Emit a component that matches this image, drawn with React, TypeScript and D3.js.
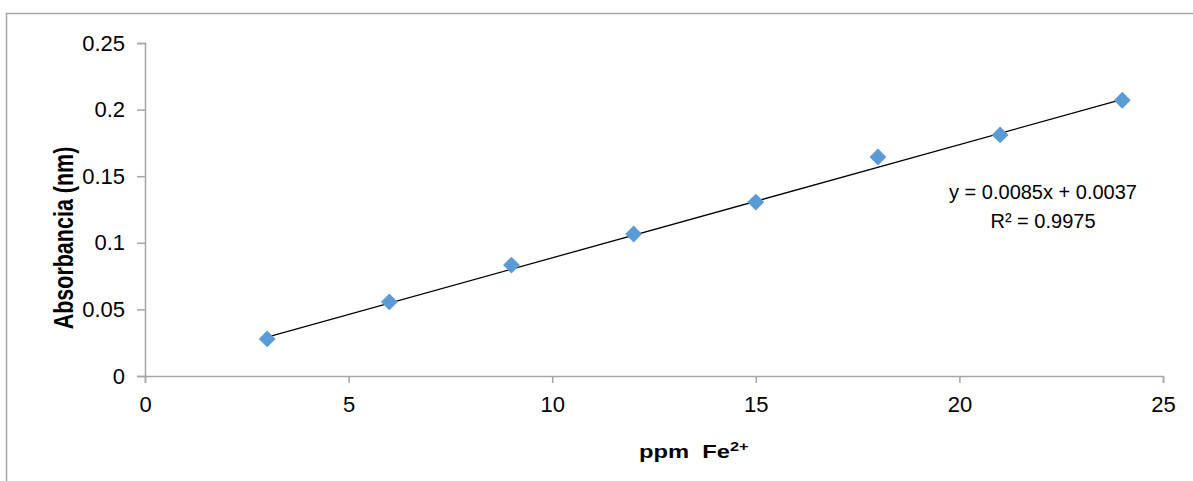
import React, { useEffect, useRef } from 'react';
import * as d3 from 'd3';

// concentración de Fe2+ (ppm) y absorbancia leída
const ppm = [3, 6, 9, 12, 15, 18, 21, 24];
const absorbancia = [0.0278, 0.0556, 0.0833, 0.1066, 0.1306, 0.1644, 0.181, 0.207];
const xTicks = [0, 5, 10, 15, 20, 25];
const yTicks = [0, 0.05, 0.1, 0.15, 0.2, 0.25];
const pendiente = 0.0085;
const intercepto = 0.0037;
const ecuacion = ['y = 0.0085x + 0.0037', 'R² = 0.9975'];

const App = () => {
    const ref = useRef<SVGSVGElement>(null);
    const width = 1193;
    const height = 481;

    useEffect(() => {
        const svg = d3.select(ref.current);
        svg.selectAll('*').remove();

        const font = 'Liberation Sans, Arial, sans-serif';
        const gris = '#a6a6a6';

        // marco del gráfico
        svg.append('path')
            .attr('d', `M6.5,${height} V13.5 H${width}`)
            .attr('fill', 'none')
            .attr('stroke', gris)
            .attr('stroke-width', 1.5);

        const x = d3.scaleLinear().domain([0, 25]).range([145, 1163]);
        const y = d3.scaleLinear().domain([0, 0.25]).range([376, 43]);

        // eje Y
        const gy = svg.append('g').attr('transform', `translate(${x(0)},0)`)
            .call(d3.axisLeft(y).tickValues(yTicks).tickSize(8).tickPadding(12)
                .tickFormat((d) => String(+d)));
        gy.select('.domain').attr('stroke', gris).attr('stroke-width', 1.5);
        gy.selectAll('.tick line').attr('stroke', gris).attr('stroke-width', 1.5);
        gy.selectAll('.tick text').attr('font-family', font).attr('font-size', 22).attr('fill', '#000');

        // eje X
        const gx = svg.append('g').attr('transform', `translate(0,${y(0)})`)
            .call(d3.axisBottom(x).tickValues(xTicks).tickSize(7).tickPadding(13));
        gx.select('.domain').attr('stroke', gris).attr('stroke-width', 1.5);
        gx.selectAll('.tick line').attr('stroke', gris).attr('stroke-width', 1.5);
        gx.selectAll('.tick text').attr('font-family', font).attr('font-size', 22).attr('fill', '#000');

        // línea de tendencia
        const x0 = d3.min(ppm)!;
        const x1 = d3.max(ppm)!;
        svg.append('line')
            .attr('x1', x(x0)).attr('y1', y(pendiente * x0 + intercepto))
            .attr('x2', x(x1)).attr('y2', y(pendiente * x1 + intercepto))
            .attr('stroke', '#000')
            .attr('stroke-width', 1.3);

        // puntos
        const diamante = d3.symbol().type(d3.symbolDiamond2).size(180);
        svg.selectAll('.punto')
            .data(ppm)
            .join('path')
            .attr('class', 'punto')
            .attr('d', diamante)
            .attr('transform', (d, i) => `translate(${x(d)},${y(absorbancia[i])})`)
            .attr('fill', '#5b9bd5');

        // ecuación
        svg.append('text')
            .attr('x', 1043).attr('y', 199)
            .attr('text-anchor', 'middle')
            .attr('font-family', font).attr('font-size', 20)
            .selectAll('tspan')
            .data(ecuacion)
            .join('tspan')
            .attr('x', 1043)
            .attr('dy', (d, i) => (i === 0 ? 0 : 29))
            .text((d) => d);

        // título eje Y
        svg.append('text')
            .attr('transform', `translate(73,238) scale(1.25,1) rotate(-90)`)
            .attr('text-anchor', 'middle')
            .attr('font-family', font).attr('font-size', 21.5).attr('font-weight', 'bold')
            .text('Absorbancia (nm)');

        // título eje X
        const tx = svg.append('text')
            .attr('transform', 'translate(639,458) scale(1.25,1)')
            .attr('font-family', font).attr('font-size', 19).attr('font-weight', 'bold')
            .attr('xml:space', 'preserve');
        tx.append('tspan').text('ppm  Fe');
        tx.append('tspan').attr('font-size', 13).attr('dy', -7).text('2+');
    }, []);

    return (
        <svg ref={ref} width={width} height={height}
            style={{ position: 'absolute', left: 0, top: 0, background: '#fff' }} />
    );
};

export default App;
